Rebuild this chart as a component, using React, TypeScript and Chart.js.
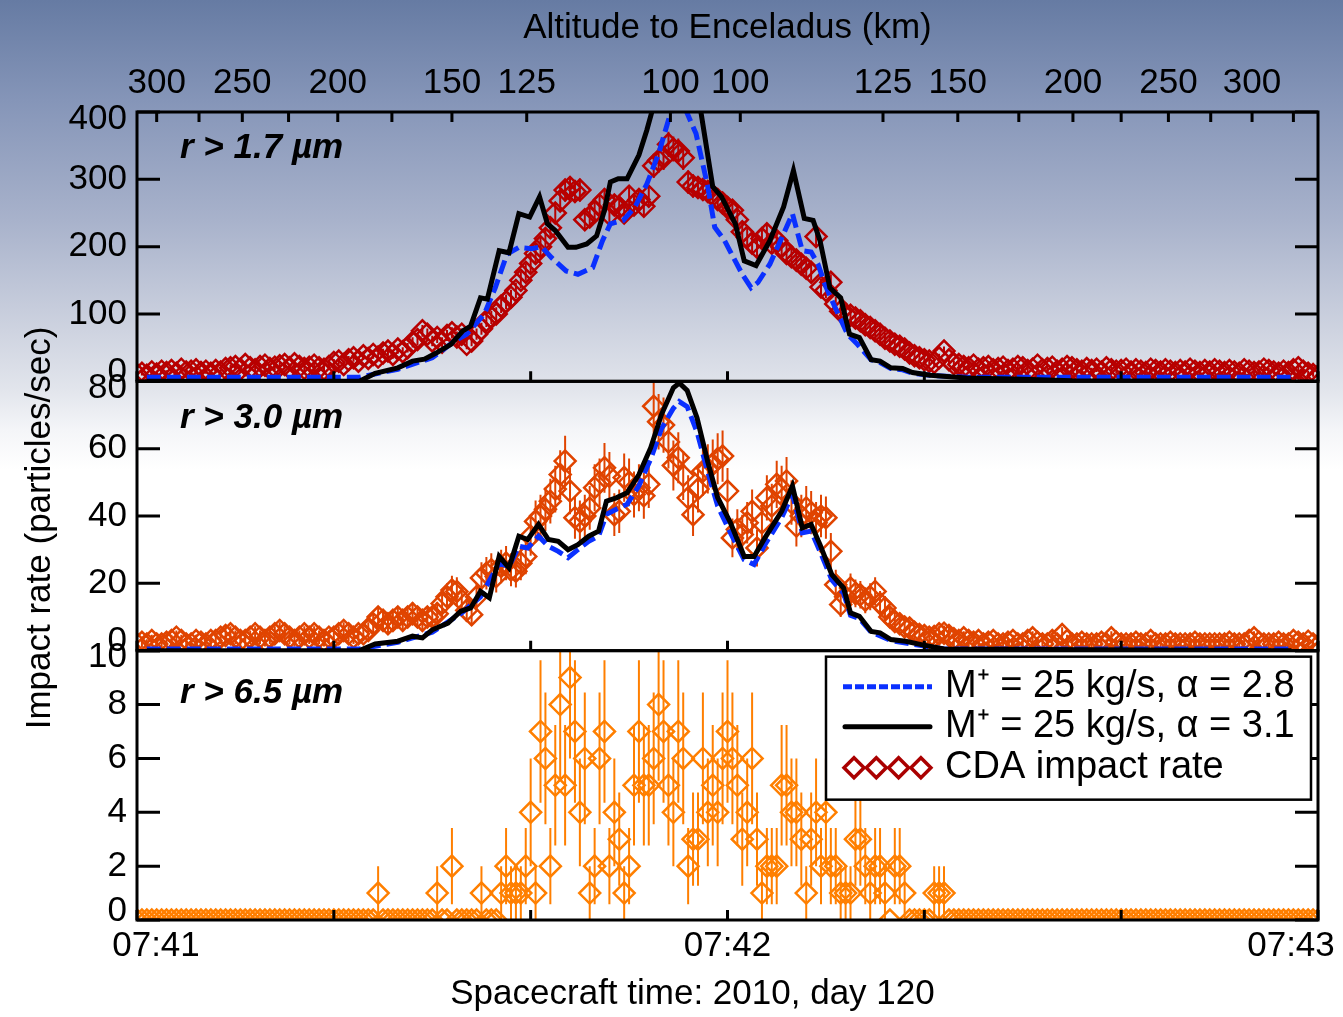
import React, { useEffect, useRef } from 'react';
import { Chart, registerables } from 'chart.js';

Chart.register(...registerables);

const W = 1343;
const H = 1017;

// CDA data: seconds after 07:41:00 on a 0.5 s grid (index * DATA_STEP)
const DATA_STEP = 0.5;

// r > 1.7 µm (particles/sec)
const TOP_DATA = [
  10, 12, 9, 14, 11, 15, 13, 16, 12, 18, 14, 15, 17, 13, 15, 12, 16, 14, 19, 20,
  22, 18, 25, 20, 17, 22, 24, 19, 21, 23, 25, 20, 26, 22, 19, 21, 24, 20, 18, 22,
  28, 30, 25, 32, 35, 30, 38, 34, 40, 36, 42, 45, 40, 48, 44, 50, 58, 62, 75, 70,
  60, 65, 58, 68, 72, 66, 70, 55, 60, 70, 78, 90, 95, 100, 112, 118, 125, 135, 150, 162,
  175, 190, 200, 212, 228, 250, 268, 284, 288, 282, 284, 240, 244, 252, 262, 270, 248, 262, 258, 250,
  275, 262, 270, 260, 275, 320, 328, 332, 352, 345, 342, 332, 296, 290, 288, 285, 282, 276, 270, 265,
  258, 254, 240, 222, 214, 205, 199, 212, 219, 205, 209, 200, 190, 185, 180, 174, 168, 162, 215, 140,
  135, 147, 115, 104, 100, 98, 94, 90, 84, 80, 75, 70, 64, 60, 55, 52, 48, 42, 38, 35,
  32, 30, 28, 35, 45, 32, 26, 25, 22, 20, 24, 18, 20, 22, 17, 19, 21, 16, 18, 22,
  20, 16, 18, 24, 17, 19, 21, 15, 18, 22, 20, 17, 15, 19, 16, 18, 14, 20, 17, 15,
  16, 18, 14, 17, 15, 13, 18, 16, 14, 17, 15, 13, 16, 14, 18, 15, 13, 16, 14, 17,
  15, 13, 16, 14, 12, 17, 15, 13, 14, 18, 16, 14, 12, 15, 13, 17, 20, 15, 12, 10, 8,
];

// r > 3.0 µm
const MID_DATA = [
  2, 2.5, 2, 3, 2, 2, 2.5, 3, 4, 3, 2, 2, 3, 2.5, 2, 3, 3, 4, 4.5, 5,
  4, 3, 3, 4, 5, 4, 3, 4, 5, 6, 5, 4, 3, 4, 5, 4, 5, 4, 3, 4,
  4, 5, 6, 5, 4, 5, 5, 6, 8, 10, 9, 8, 9, 10, 9, 10, 11, 10, 9, 10,
  10, 11, 14, 16, 18, 17.6, 15, 12, 10.7, 16, 21.6, 23, 24, 22, 25, 26, 24, 23.6, 26, 28,
  34, 38.4, 40, 42, 44.4, 48, 52.3, 56.3, 47.4, 39.5, 38.4, 40, 42.4, 48.4, 50, 54.3, 51.8, 40.4, 41.4, 51.4,
  50, 46.4, 48.4, 46, 49.4, 72.6, 68, 67, 62, 55, 57.3, 52, 45.4, 40.4, 48, 53.3, 54, 55.3, 57, 57.8,
  47.4, 33.5, 36, 34.5, 38, 41.4, 30.5, 38, 45.4, 43, 49.4, 48, 50.4, 44, 37, 40, 42.4, 41, 38, 40,
  39.5, 29.5, 19.6, 13.7, 16, 18.6, 17, 16.6, 15, 16, 17.6, 14, 12.7, 10, 8.7, 8, 7, 6.7, 5.5, 4.8,
  4.5, 4, 4.2, 5, 5.2, 4.5, 3.5, 3, 3.8, 3, 2.5, 3, 2, 2.5, 3, 2, 2, 2.5, 3, 2,
  2, 3, 3.8, 2.5, 2, 2, 3, 2, 4.8, 3, 2, 2, 2.5, 2, 2, 2, 2.5, 2, 3.8, 2.5,
  2, 2, 2, 2.5, 2, 2, 3, 2, 2, 2, 2.5, 2, 2, 2, 2, 2.5, 2, 2, 2, 2,
  2, 2, 2.5, 2, 2, 2, 3, 3.8, 2.5, 2, 2, 2, 2.5, 2, 2, 3, 2.5, 2, 2.8, 2, 1.5,
];

// r > 6.5 µm
const BOT_DATA = [
  0, 0, 0, 0, 0, 0, 0, 0, 0, 0, 0, 0, 0, 0, 0, 0, 0, 0, 0, 0,
  0, 0, 0, 0, 0, 0, 0, 0, 0, 0, 0, 0, 0, 0, 0, 0, 0, 0, 0, 0,
  0, 0, 0, 0, 0, 0, 0, 0, 0, 1, 0, 0, 0, 0, 0, 0, 0, 0, 0, 0,
  0, 1, 0, 0, 2, 0, 0, 0, 0, 0, 1, 0, 0, 0, 1, 2, 1, 1, 1, 2,
  4, 1, 7, 6, 2, 5, 8, 5, 9, 7, 4, 6, 1, 2, 6, 7, 2, 4, 3, 1,
  2, 5, 7, 5, 5, 6, 8, 7, 5, 4, 7, 6, 2, 3, 3, 6, 4, 5, 4, 6,
  7, 6, 5, 3, 4, 6, 3, 1, 2, 2, 2, 5, 5, 4, 4, 3, 1, 3, 4, 2,
  4, 2, 2, 1, 1, 1, 3, 3, 2, 1, 2, 2, 1, 0, 2, 2, 1, 0, 0, 0,
  0, 0, 1, 1, 1, 0, 0, 0, 0, 0, 0, 0, 0, 0, 0, 0, 0, 0, 0, 0,
  0, 0, 0, 0, 0, 0, 0, 0, 0, 0, 0, 0, 0, 0, 0, 0, 0, 0, 0, 0,
  0, 0, 0, 0, 0, 0, 0, 0, 0, 0, 0, 0, 0, 0, 0, 0, 0, 0, 0, 0,
  0, 0, 0, 0, 0, 0, 0, 0, 0, 0, 0, 0, 0, 0, 0, 0, 0, 0, 0, 0, 0,
];

// Model M+ = 25 kg/s, alpha = 3.1 (black) and alpha = 2.8 (blue), vertex times (s) and rates
const TOP_BLACK_T = [1, 22.6, 24.2, 26.5, 28, 29.2, 30.4, 31.9, 33.1, 33.9, 34.9, 35.6, 36.8, 37.8, 38.8, 39.9, 40.9, 41.7, 42.5, 43.8, 44.6, 45.7, 46.7, 47.5, 48.1, 48.9, 49.8, 51, 51.8, 52.5, 53.5, 54.5, 55.5, 56.5, 57.3, 58.5, 59.4, 60.8, 61.7, 62.9, 64.3, 65.7, 66.7, 67.8, 68.7, 69.4, 70.4, 71.5, 72.4, 73.4, 74.6, 75.5, 76.6, 77.8, 78.8, 80.6, 84.3, 90, 95, 117.3];
const TOP_BLACK_V = [0, 0, 12, 20, 30, 33, 42, 55, 75, 82, 124, 122, 194, 191, 249, 244, 274, 234, 224, 199, 199, 204, 216, 254, 296, 301, 301, 336, 373, 410, 470, 510, 500, 450, 400, 289, 274, 234, 179, 172, 209, 259, 313, 242, 239, 209, 139, 124, 70, 65, 32, 30, 20, 19, 13, 9, 5, 3, 1, 0];
const TOP_BLUE_T = [1, 22.6, 26.5, 30, 32.3, 33.5, 35.3, 36.4, 37.6, 38.8, 40.1, 41.1, 42.1, 43.6, 44.8, 46.3, 47.3, 48.1, 49.4, 50.6, 51.8, 53, 54.1, 55, 55.7, 56.8, 58, 58.7, 59.7, 60.6, 61.5, 62.4, 63.1, 64.3, 65.7, 66.6, 67.6, 68.5, 69.2, 69.9, 70.8, 72.2, 73.2, 74.6, 75.5, 76.6, 77.8, 78.8, 80.6, 84.3, 90, 117.3];
const TOP_BLUE_V = [6, 6, 18, 35, 60, 70, 100, 139, 189, 199, 197, 200, 184, 164, 159, 169, 209, 234, 239, 259, 293, 338, 393, 430, 405, 368, 289, 229, 209, 184, 159, 139, 147, 174, 219, 249, 194, 192, 174, 144, 114, 70, 55, 32, 28, 19, 17, 12, 9, 6, 6, 6];

const MID_BLACK_T = [1, 22.6, 24.2, 26.5, 28, 29, 30, 31.6, 32.9, 33.9, 34.9, 35.8, 36.8, 37.8, 38.8, 39.7, 40.8, 41.8, 42.8, 43.8, 44.8, 45.9, 46.9, 47.7, 48.7, 49.8, 51, 52.2, 53.3, 54.5, 55.1, 55.9, 56.9, 58, 59, 60.3, 61.7, 62.7, 63.8, 65.5, 66.6, 67.6, 68.5, 69.4, 70.6, 71.8, 72.5, 73.4, 74.6, 75.5, 76.6, 78.1, 79.7, 82, 117.3];
const MID_BLACK_V = [0, 0, 2, 2.8, 4.3, 3.8, 6.2, 8.2, 11.7, 12.7, 17.6, 15.7, 28, 24.6, 34, 33, 37.5, 33, 32.5, 30, 31.5, 34, 35.5, 44.4, 45.4, 46.9, 52.3, 60.3, 70.2, 78.1, 79.5, 77.3, 69.2, 56, 45.5, 38, 28, 28, 33.5, 41.4, 48.9, 36.5, 37.5, 31.5, 22.6, 18.6, 11.2, 10.2, 5.7, 5.3, 3.3, 2.8, 1.8, 0.5, 0];
const MID_BLUE_T = [1, 22.6, 26.5, 30, 32.9, 34.9, 36.8, 37.8, 38.8, 39.7, 40.8, 41.8, 42.8, 43.8, 44.8, 45.9, 46.9, 47.7, 48.7, 49.8, 51, 52.2, 53.3, 54.5, 55.1, 55.9, 56.9, 58, 59, 60.3, 61.7, 62.7, 63.8, 65.5, 66.6, 67.6, 68.5, 69.4, 70.6, 71.8, 72.5, 73.4, 74.6, 76.6, 79.7, 82, 117.3];
const MID_BLUE_V = [0.5, 0.5, 2.5, 5.5, 11, 16, 26, 25, 31, 30.5, 34, 31, 29.5, 27.6, 30, 32.5, 34, 40.5, 42, 43.5, 49, 57, 66, 72, 74, 72.5, 65, 53, 43, 35, 27, 25.6, 31.5, 39.5, 46.4, 35, 35.5, 29.5, 21, 17, 10.5, 9.5, 5.5, 3, 1.5, 0.5, 0.5];

// Axes
const TIME_TICKS = [0, 20, 40, 60, 80, 100, 120];
const TIME_LABEL_VALUES = [0, 60, 120];
const TIME_LABELS = ['07:41', '07:42', '07:43'];
const ALT_TICK_T = [2.0, 6.3, 10.7, 15.4, 20.4, 25.9, 32.0, 39.6, 54.2, 61.3, 75.8, 83.4, 89.6, 95.1, 100.0, 104.8, 109.1, 113.3, 117.5];
const ALT_TICK_KM = [300, 275, 250, 225, 200, 175, 150, 125, 100, 100, 125, 150, 175, 200, 225, 250, 275, 300, 325];
const ALT_LABELLED = [300, 250, 200, 150, 125, 100];
const Y1_TICKS = [0, 100, 200, 300, 400];
const Y2_TICKS = [0, 20, 40, 60, 80];
const Y3_TICKS = [0, 2, 4, 6, 8, 10];

const TOP_COLOR = '#b80000';
const MID_COLOR = '#e04400';
const BOT_COLOR = '#ff7f00';
const BLUE = '#0a30ff';
const LEGEND_RED = '#aa0000';

const FONT_FAMILY = "'Liberation Sans', Arial, Helvetica, sans-serif";
const TICK_FONT = `35px ${FONT_FAMILY}`;
const TITLE_FONT = `35px ${FONT_FAMILY}`;
const PANEL_FONT = `italic bold 35px ${FONT_FAMILY}`;
const LEGEND_FONT = `38px ${FONT_FAMILY}`;

const PANELS = [
  { id: 'y1', ticks: Y1_TICKS, label: 'r > 1.7 µm', labelDy: 36, color: TOP_COLOR, data: TOP_DATA },
  { id: 'y2', ticks: Y2_TICKS, label: 'r > 3.0 µm', labelDy: 37, color: MID_COLOR, data: MID_DATA },
  { id: 'y3', ticks: Y3_TICKS, label: 'r > 6.5 µm', labelDy: 43, color: BOT_COLOR, data: BOT_DATA },
];

const gridPts = (vals: number[]) => vals.map((v, i) => ({ x: i * DATA_STEP, y: v }));
const zipPts = (ts: number[], vs: number[]) => ts.map((t, i) => ({ x: t, y: vs[i] }));

const hiddenY = (id: string, max: number, weight: number) => ({
  type: 'linear',
  position: 'left',
  stack: 'panels',
  stackWeight: 1,
  weight,
  min: 0,
  max,
  display: true,
  ticks: { display: false },
  grid: { display: false, drawTicks: false },
  border: { display: false },
  afterFit: (s: any) => { s.width = 0; },
});

const decorPlugin = {
  id: 'decor',
  beforeDatasetsDraw(chart: any) {
    const ctx = chart.ctx;
    const xs = chart.scales.x;
    PANELS.forEach((p) => {
      const ys = chart.scales[p.id];
      ctx.save();
      ctx.beginPath();
      ctx.rect(xs.left, ys.top, xs.right - xs.left, ys.bottom - ys.top);
      ctx.clip();
      ctx.strokeStyle = p.color;
      ctx.lineWidth = 2;
      ctx.beginPath();
      p.data.forEach((v, i) => {
        if (!(v > 0)) return;
        const e = Math.sqrt(v);
        const px = xs.getPixelForValue(i * DATA_STEP);
        ctx.moveTo(px, ys.getPixelForValue(v - e));
        ctx.lineTo(px, ys.getPixelForValue(v + e));
      });
      ctx.stroke();
      ctx.restore();
    });
  },
  afterDraw(chart: any) {
    const ctx = chart.ctx;
    const xs = chart.scales.x;
    const L = xs.left;
    const R = xs.right;
    ctx.save();
    ctx.strokeStyle = '#000';
    ctx.fillStyle = '#000';
    ctx.lineCap = 'butt';
    PANELS.forEach((p, pi) => {
      const ys = chart.scales[p.id];
      const T = ys.top;
      const B = ys.bottom;
      ctx.lineWidth = 3;
      ctx.strokeRect(L, T, R - L, B - T);
      ctx.beginPath();
      p.ticks.forEach((v) => {
        const py = ys.getPixelForValue(v);
        ctx.moveTo(L, py); ctx.lineTo(L + 23, py);
        ctx.moveTo(R, py); ctx.lineTo(R - 23, py);
      });
      TIME_TICKS.forEach((t) => {
        const px = xs.getPixelForValue(t);
        ctx.moveTo(px, B); ctx.lineTo(px, B - 10);
      });
      if (pi === 0) {
        ALT_TICK_T.forEach((t) => {
          const px = xs.getPixelForValue(t);
          ctx.moveTo(px, T); ctx.lineTo(px, T + 10);
        });
      }
      ctx.stroke();

      ctx.font = TICK_FONT;
      ctx.textAlign = 'right';
      ctx.textBaseline = 'middle';
      p.ticks.forEach((v, i) => {
        let py = ys.getPixelForValue(v);
        if (i === 0) py -= 9;
        else if (i === p.ticks.length - 1) py += 7;
        ctx.fillText(String(v), L - 10, py);
      });
      ctx.font = PANEL_FONT;
      ctx.textAlign = 'left';
      ctx.fillText(p.label, L + 43, T + p.labelDy);
    });

    // altitude axis labels
    const topY = chart.scales.y1.top;
    ctx.font = TICK_FONT;
    ctx.textAlign = 'center';
    ctx.textBaseline = 'middle';
    ALT_TICK_T.forEach((t, i) => {
      const km = ALT_TICK_KM[i];
      if (ALT_LABELLED.indexOf(km) < 0) return;
      ctx.fillText(String(km), xs.getPixelForValue(t), topY - 29);
    });
    ctx.font = TITLE_FONT;
    ctx.fillText('Altitude to Enceladus (km)', (L + R) / 2, topY - 84);

    // time axis labels
    const botY = chart.scales.y3.bottom;
    ctx.font = TICK_FONT;
    TIME_LABEL_VALUES.forEach((t, i) => {
      let px = xs.getPixelForValue(t);
      if (i === 0) px += 19;
      if (i === TIME_LABEL_VALUES.length - 1) px -= 27;
      ctx.fillText(TIME_LABELS[i], px, botY + 26);
    });
    ctx.font = TITLE_FONT;
    ctx.fillText('Spacecraft time: 2010, day 120', (L + R) / 2 - 35, botY + 74);

    // y title
    ctx.save();
    ctx.translate(40, (chart.scales.y1.top + botY) / 2 + 12);
    ctx.rotate(-Math.PI / 2);
    ctx.fillText('Impact rate (particles/sec)', 0, 0);
    ctx.restore();

    // legend
    const bT = chart.scales.y3.top + 6;
    const bR = R - 7;
    const bL = bR - 485;
    const bH = 143;
    ctx.fillStyle = '#fff';
    ctx.fillRect(bL, bT, bR - bL, bH);
    ctx.lineWidth = 2.5;
    ctx.strokeStyle = '#000';
    ctx.strokeRect(bL, bT, bR - bL, bH);
    const rows = [bT + 30, bT + 70, bT + 111];
    const sx0 = bL + 17;
    const sx1 = bL + 106;
    ctx.save();
    ctx.strokeStyle = BLUE;
    ctx.lineWidth = 5;
    ctx.setLineDash([9, 3]);
    ctx.beginPath(); ctx.moveTo(sx0, rows[0]); ctx.lineTo(sx1, rows[0]); ctx.stroke();
    ctx.setLineDash([]);
    ctx.strokeStyle = '#000';
    ctx.lineCap = 'round';
    ctx.beginPath(); ctx.moveTo(sx0 + 2, rows[1]); ctx.lineTo(sx1 - 2, rows[1]); ctx.stroke();
    ctx.lineCap = 'butt';
    ctx.strokeStyle = LEGEND_RED;
    ctx.lineWidth = 3.5;
    for (let k = 0; k < 4; k++) {
      const cx = sx0 + 11 + k * 22.3;
      const cy = rows[2];
      const r = 10;
      ctx.beginPath();
      ctx.moveTo(cx - r, cy); ctx.lineTo(cx, cy - r); ctx.lineTo(cx + r, cy); ctx.lineTo(cx, cy + r);
      ctx.closePath();
      ctx.stroke();
    }
    ctx.restore();
    ctx.fillStyle = '#000';
    ctx.font = LEGEND_FONT;
    ctx.textAlign = 'left';
    ctx.textBaseline = 'middle';
    ctx.fillText('M⁺ = 25 kg/s, α = 2.8', bL + 119, rows[0]);
    ctx.fillText('M⁺ = 25 kg/s, α = 3.1', bL + 119, rows[1]);
    ctx.fillText('CDA impact rate', bL + 119, rows[2]);
    ctx.restore();
  },
};

const lineDs = (pts: any[], yAxisID: string, color: string, dashed: boolean, order: number) => ({
  data: pts,
  yAxisID,
  xAxisID: 'x',
  borderColor: color,
  borderWidth: 5,
  borderDash: dashed ? [14, 6] : [],
  pointRadius: 0,
  tension: 0,
  fill: false,
  order,
});

const pointDs = (vals: number[], yAxisID: string, color: string) => ({
  data: gridPts(vals),
  yAxisID,
  xAxisID: 'x',
  showLine: false,
  pointStyle: 'rectRot',
  pointRadius: 10.5,
  pointBorderWidth: 2.5,
  pointBorderColor: color,
  pointBackgroundColor: 'rgba(0,0,0,0)',
  borderColor: color,
  order: 2,
  clip: 0,
});

export default function App() {
  const ref = useRef<HTMLCanvasElement>(null);
  useEffect(() => {
    const canvas = ref.current;
    if (!canvas) return;
    const chart = new Chart(canvas, {
      type: 'line',
      data: {
        datasets: [
          lineDs(zipPts(TOP_BLACK_T, TOP_BLACK_V), 'y1', '#000', false, 0),
          lineDs(zipPts(TOP_BLUE_T, TOP_BLUE_V), 'y1', BLUE, true, 1),
          pointDs(TOP_DATA, 'y1', TOP_COLOR),
          lineDs(zipPts(MID_BLACK_T, MID_BLACK_V), 'y2', '#000', false, 0),
          lineDs(zipPts(MID_BLUE_T, MID_BLUE_V), 'y2', BLUE, true, 1),
          pointDs(MID_DATA, 'y2', MID_COLOR),
          pointDs(BOT_DATA, 'y3', BOT_COLOR),
        ] as any,
      },
      options: {
        responsive: false,
        animation: false,
        devicePixelRatio: 1,
        events: [],
        layout: { padding: { left: 137, right: 25, top: 112, bottom: 97 } },
        plugins: { legend: { display: false }, tooltip: { enabled: false } },
        scales: {
          x: {
            type: 'linear',
            position: 'bottom',
            min: 0,
            max: 120,
            display: true,
            ticks: { display: false },
            grid: { display: false, drawTicks: false },
            border: { display: false },
            afterFit: (s: any) => { s.height = 0; },
          },
          y1: hiddenY('y1', 400, 3),
          y2: hiddenY('y2', 80, 2),
          y3: hiddenY('y3', 10, 1),
        } as any,
      },
      plugins: [decorPlugin],
    });
    return () => chart.destroy();
  }, []);

  return (
    <div
      style={{
        position: 'fixed',
        left: 0,
        top: 0,
        width: W,
        height: H,
        background:
          'linear-gradient(to bottom, #667ba3 0px, #8595b8 100px, #a8b2cb 220px, #ced3e0 330px, #e2e5ec 390px, #f4f5f8 430px, #ffffff 470px, #ffffff 100%)',
      }}
    >
      <canvas ref={ref} width={W} height={H} style={{ display: 'block', width: W, height: H }} />
    </div>
  );
}
